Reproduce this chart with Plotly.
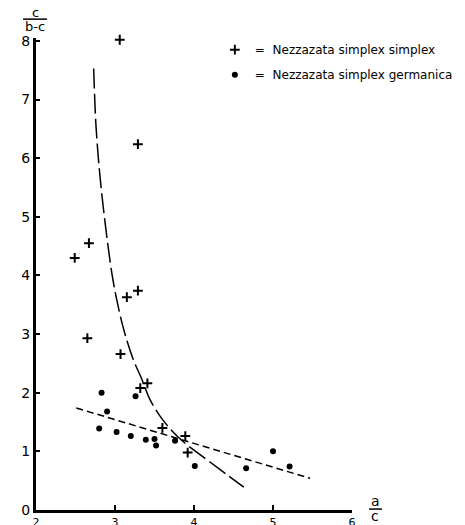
import plotly.graph_objects as go

# Nezzazata simplex simplex (crosses)
simplex_x = [3.06, 3.29, 2.67, 2.49, 3.29, 3.15, 2.65, 3.07, 3.41, 3.32, 3.60, 3.89, 3.92]
simplex_y = [8.02, 6.24, 4.55, 4.30, 3.74, 3.63, 2.93, 2.66, 2.16, 2.08, 1.40, 1.26, 0.98]

# Nezzazata simplex germanica (dots)
germ_x = [2.83, 3.26, 2.90, 2.80, 3.02, 3.20, 3.39, 3.50, 3.52, 3.76, 4.01, 5.00, 4.66, 5.21]
germ_y = [2.00, 1.94, 1.68, 1.39, 1.33, 1.26, 1.20, 1.21, 1.10, 1.18, 0.75, 1.00, 0.71, 0.74]

# long-dashed trend curve
curve_x = [2.73, 2.76, 2.81, 2.88, 2.96, 3.02, 3.11, 3.23, 3.34, 3.44, 3.57, 3.72, 3.85, 4.00, 4.21, 4.42, 4.63]
curve_y = [7.53, 6.54, 5.69, 4.84, 4.04, 3.60, 3.08, 2.57, 2.23, 1.89, 1.60, 1.35, 1.18, 1.02, 0.81, 0.60, 0.39]

# short-dashed trend line
line_x = [2.51, 5.47]
line_y = [1.74, 0.54]

x_ticks = [2, 3, 4, 5, 6]
y_ticks = [0, 1, 2, 3, 4, 5, 6, 7, 8]

FONT = "DejaVu Sans"

fig = go.Figure()

fig.add_trace(go.Scatter(
    x=curve_x, y=curve_y, mode="lines", line_shape="spline",
    line=dict(color="black", width=1.5, dash="20px,5px"),
    showlegend=False, hoverinfo="skip"))
fig.add_trace(go.Scatter(
    x=line_x, y=line_y, mode="lines",
    line=dict(color="black", width=1.5, dash="7px,4px"),
    showlegend=False, hoverinfo="skip"))

fig.add_trace(go.Scatter(
    x=simplex_x, y=simplex_y, mode="markers", cliponaxis=False,
    name="=\u00a0\u00a0Nezzazata simplex simplex",
    legendgroup="a",
    marker=dict(symbol="cross-thin", size=7, color="black",
                line=dict(color="black", width=2))))
fig.add_trace(go.Scatter(
    x=germ_x, y=germ_y, mode="markers", cliponaxis=False,
    name="=\u00a0\u00a0Nezzazata simplex germanica",
    legendgroup="b",
    marker=dict(symbol="circle", size=6, color="black")))

fig.update_layout(
    width=465, height=525,
    margin=dict(l=36, r=113, t=38, b=15, autoexpand=False),
    paper_bgcolor="white", plot_bgcolor="white",
    font=dict(family=FONT, color="black", size=13),
    legend=dict(x=0.566, y=1.006, xanchor="left", yanchor="top",
                font=dict(family=FONT, size=12, color="black"),
                bgcolor="rgba(0,0,0,0)", tracegroupgap=6,
                traceorder="grouped"),
    xaxis=dict(range=[2, 6], tickvals=x_ticks, ticktext=[str(v) for v in x_ticks],
               showgrid=False, zeroline=False, showline=True, linecolor="black",
               linewidth=3, ticks="inside", ticklen=5, tickwidth=1.5,
               tickcolor="black", tickfont=dict(family=FONT, size=11),
               automargin=False),
    yaxis=dict(range=[0, 8.05], tickvals=y_ticks, ticktext=[str(v) for v in y_ticks],
               showgrid=False, zeroline=False, showline=True, linecolor="black",
               linewidth=3, ticks="inside", ticklen=4, tickwidth=1.5,
               tickcolor="black", tickfont=dict(family=FONT, size=14),
               automargin=False),
)

# y-axis title: c / (b-c)
fig.add_annotation(text="c", xref="paper", yref="paper", x=-0.003, y=1.0,
                   yanchor="middle", xanchor="center",
                   yshift=26, showarrow=False, font=dict(family=FONT, size=13))
fig.add_annotation(text="b-c", xref="paper", yref="paper", x=-0.003, y=1.0,
                   yanchor="middle", xanchor="center",
                   yshift=12, showarrow=False, font=dict(family=FONT, size=13))
fig.add_shape(type="line", xref="paper", yref="paper",
              x0=-0.041, x1=0.035, y0=1.040, y1=1.040,
              line=dict(color="black", width=1.5))

# x-axis title: a / c
fig.add_annotation(text="a", xref="paper", yref="paper", x=1.073, y=0.0,
                   yanchor="middle", xanchor="center",
                   yshift=9, showarrow=False, font=dict(family=FONT, size=14))
fig.add_annotation(text="c", xref="paper", yref="paper", x=1.073, y=0.0,
                   yanchor="middle", xanchor="center",
                   yshift=-6, showarrow=False, font=dict(family=FONT, size=14))
fig.add_shape(type="line", xref="paper", yref="paper",
              x0=1.054, x1=1.095, y0=0.002, y1=0.002,
              line=dict(color="black", width=1.5))

fig.write_html("out.html",
               config={"displayModeBar": False},
               post_script="document.body.style.margin='0';document.body.style.overflow='hidden';")
